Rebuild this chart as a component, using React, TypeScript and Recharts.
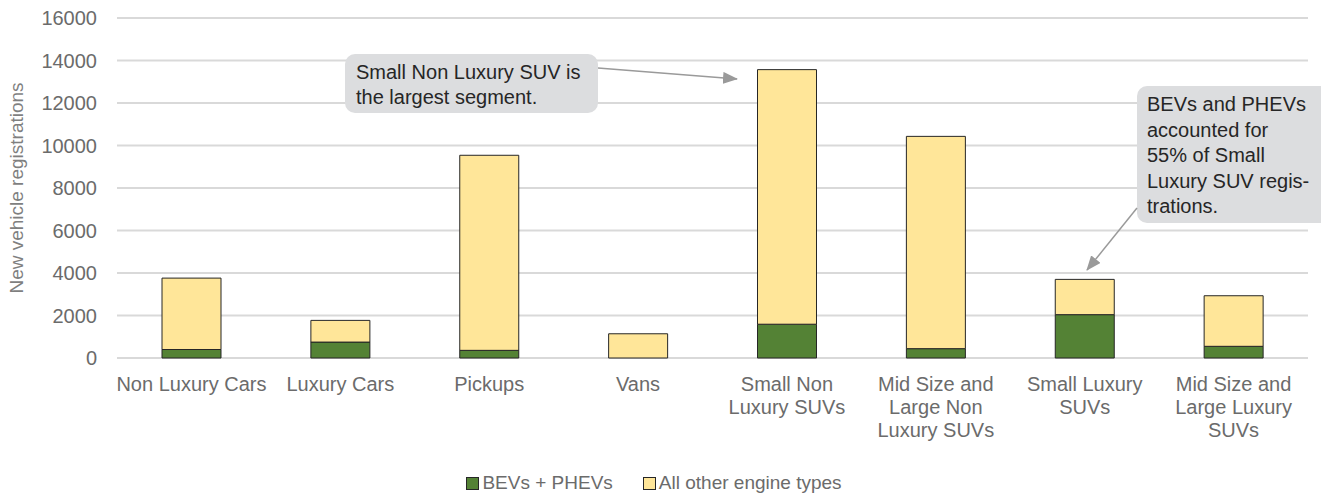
import { BarChart, Bar, XAxis, YAxis, CartesianGrid, Legend } from 'recharts';

const categories = [
  'Non Luxury Cars',
  'Luxury Cars',
  'Pickups',
  'Vans',
  'Small Non Luxury SUVs',
  'Mid Size and Large Non Luxury SUVs',
  'Small Luxury SUVs',
  'Mid Size and Large Luxury SUVs',
];

// how each category label breaks onto lines
const tickLines = [
  ['Non Luxury Cars'],
  ['Luxury Cars'],
  ['Pickups'],
  ['Vans'],
  ['Small Non', 'Luxury SUVs'],
  ['Mid Size and', 'Large Non', 'Luxury SUVs'],
  ['Small Luxury', 'SUVs'],
  ['Mid Size and', 'Large Luxury', 'SUVs'],
];

const bevs = [400, 750, 360, 0, 1590, 440, 2040, 550];
const others = [3360, 1020, 9180, 1140, 11980, 9990, 1660, 2380];

const yTicks = [0, 2000, 4000, 6000, 8000, 10000, 12000, 14000, 16000];

const seriesNames = ['BEVs + PHEVs', 'All other engine types'];
const seriesColors = ['#548235', '#FFE699'];

const note1 = ['Small Non Luxury SUV is', 'the largest segment.'];
const note2 = ['BEVs and PHEVs', 'accounted for', '55% of Small', 'Luxury SUV regis-', 'trations.'];

const data = categories.map((name, i) => ({
  name,
  bev: bevs[i],
  other: others[i],
}));

const FONT = '"Liberation Sans", Arial, sans-serif';

const CategoryTick = (props: any) => {
  const { x, y, payload } = props;
  const idx = categories.indexOf(payload.value);
  const lines = tickLines[idx] || [payload.value];
  return (
    <text x={x} y={y + 25} textAnchor="middle" fill="#6b6b6b" fontSize={20} fontFamily={FONT}>
      {lines.map((line, i) => (
        <tspan key={i} x={x} dy={i === 0 ? 0 : 23}>
          {line}
        </tspan>
      ))}
    </text>
  );
};

const LegendContent = () => (
  <div
    style={{
      display: 'flex',
      justifyContent: 'center',
      alignItems: 'center',
      height: 32,
      paddingTop: 8,
      boxSizing: 'border-box',
      fontFamily: FONT,
      fontSize: 19,
      color: '#6b6b6b',
    }}
  >
    {seriesNames.map((n, i) => (
      <div key={n} style={{ display: 'flex', alignItems: 'center', marginRight: i === 0 ? 30 : 0 }}>
        <span
          style={{
            display: 'inline-block',
            width: 11,
            height: 11,
            background: seriesColors[i],
            border: '1px solid #262626',
            marginRight: 3,
          }}
        />
        <span>{n}</span>
      </div>
    ))}
  </div>
);

const Notes = () => (
  <svg
    width={1321}
    height={495}
    style={{ position: 'absolute', left: 0, top: 0, pointerEvents: 'none' }}
  >
    <defs>
      <marker id="arr" markerWidth="15" markerHeight="12" refX="14" refY="6" orient="auto" markerUnits="userSpaceOnUse">
        <path d="M0,0 L15,6 L0,12 Z" fill="#9a9a9a" />
      </marker>
    </defs>
    <rect x={345} y={54} width={253} height={59} rx={10} fill="#dcdddf" />
    {note1.map((t, i) => (
      <text key={i} x={356} y={79 + i * 25} fontSize={20} fill="#262626" fontFamily={FONT}>
        {t}
      </text>
    ))}
    <line x1={598} y1={68} x2={737} y2={79} stroke="#9a9a9a" strokeWidth={1.5} markerEnd="url(#arr)" />

    <rect x={1137} y={86} width={200} height={137} rx={10} fill="#dcdddf" />
    {note2.map((t, i) => (
      <text key={i} x={1147} y={111 + i * 25.5} fontSize={20} fill="#262626" fontFamily={FONT}>
        {t}
      </text>
    ))}
    <line x1={1137} y1={208} x2={1087} y2={270} stroke="#9a9a9a" strokeWidth={1.5} markerEnd="url(#arr)" />
  </svg>
);

export default function App() {
  return (
    <div style={{ position: 'relative', width: 1321, height: 495, background: '#fff' }}>
      <style>{'body{margin:0}'}</style>
      <BarChart
        width={1321}
        height={495}
        data={data}
        margin={{ top: 18, right: 13, left: 0, bottom: 0 }}
        barSize={59}
      >
        <CartesianGrid vertical={false} stroke="#d9d9d9" strokeWidth={2} />
        <XAxis
          dataKey="name"
          axisLine={false}
          tickLine={false}
          interval={0}
          height={105}
          tick={<CategoryTick />}
        />
        <YAxis
          width={117}
          domain={[0, 16000]}
          ticks={yTicks}
          axisLine={false}
          tickLine={false}
          tickMargin={14}
          tick={{ fill: '#6b6b6b', fontSize: 20, fontFamily: FONT }}
          label={{
            value: 'New vehicle registrations',
            angle: -90,
            position: 'insideLeft',
            offset: 16,
            style: { textAnchor: 'middle', fill: '#7f7f7f', fontSize: 19, fontFamily: FONT },
          }}
        />
        <Legend verticalAlign="bottom" height={32} content={<LegendContent />} />
        <Bar
          dataKey="bev"
          name={seriesNames[0]}
          stackId="a"
          fill={seriesColors[0]}
          stroke="#262626"
          strokeWidth={1}
          isAnimationActive={false}
        />
        <Bar
          dataKey="other"
          name={seriesNames[1]}
          stackId="a"
          fill={seriesColors[1]}
          stroke="#262626"
          strokeWidth={1}
          isAnimationActive={false}
        />
      </BarChart>
      <Notes />
    </div>
  );
}
